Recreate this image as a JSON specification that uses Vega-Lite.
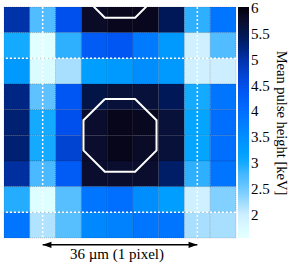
{
  "$schema": "https://vega.github.io/schema/vega-lite/v6.json",
  "width": 232,
  "height": 231,
  "padding": {"left": 3, "top": 6, "right": 0, "bottom": 0},
  "config": {"view": {"stroke": null}, "font": "Liberation Serif"},
  "datasets": {
    "cells": [
      {"c":0,"r":0,"v":5.0},{"c":1,"r":0,"v":2.7},{"c":2,"r":0,"v":4.5},{"c":3,"r":0,"v":5.8},{"c":4,"r":0,"v":5.88},{"c":5,"r":0,"v":5.88},{"c":6,"r":0,"v":5.45},{"c":7,"r":0,"v":2.9},{"c":8,"r":0,"v":3.9},
      {"c":0,"r":1,"v":3.0},{"c":1,"r":1,"v":1.58},{"c":2,"r":1,"v":2.9},{"c":3,"r":1,"v":4.3},{"c":4,"r":1,"v":4.4},{"c":5,"r":1,"v":3.8},{"c":6,"r":1,"v":3.3},{"c":7,"r":1,"v":1.95},{"c":8,"r":1,"v":2.7},
      {"c":0,"r":2,"v":3.3},{"c":1,"r":2,"v":1.72},{"c":2,"r":2,"v":2.2},{"c":3,"r":2,"v":3.2},{"c":4,"r":2,"v":3.3},{"c":5,"r":2,"v":3.5},{"c":6,"r":2,"v":3.3},{"c":7,"r":2,"v":1.95},{"c":8,"r":2,"v":2.0},
      {"c":0,"r":3,"v":5.2},{"c":1,"r":3,"v":2.6},{"c":2,"r":3,"v":4.4},{"c":3,"r":3,"v":5.55},{"c":4,"r":3,"v":5.65},{"c":5,"r":3,"v":5.65},{"c":6,"r":3,"v":5.45},{"c":7,"r":3,"v":3.0},{"c":8,"r":3,"v":3.9},
      {"c":0,"r":4,"v":5.3},{"c":1,"r":4,"v":3.0},{"c":2,"r":4,"v":4.5},{"c":3,"r":4,"v":5.75},{"c":4,"r":4,"v":5.9},{"c":5,"r":4,"v":5.85},{"c":6,"r":4,"v":5.65},{"c":7,"r":4,"v":3.1},{"c":8,"r":4,"v":4.0},
      {"c":0,"r":5,"v":5.3},{"c":1,"r":5,"v":3.0},{"c":2,"r":5,"v":4.7},{"c":3,"r":5,"v":5.75},{"c":4,"r":5,"v":5.9},{"c":5,"r":5,"v":5.8},{"c":6,"r":5,"v":5.65},{"c":7,"r":5,"v":3.1},{"c":8,"r":5,"v":4.0},
      {"c":0,"r":6,"v":5.05},{"c":1,"r":6,"v":2.75},{"c":2,"r":6,"v":4.3},{"c":3,"r":6,"v":5.75},{"c":4,"r":6,"v":5.75},{"c":5,"r":6,"v":5.75},{"c":6,"r":6,"v":5.35},{"c":7,"r":6,"v":2.9},{"c":8,"r":6,"v":3.9},
      {"c":0,"r":7,"v":2.95},{"c":1,"r":7,"v":1.65},{"c":2,"r":7,"v":2.65},{"c":3,"r":7,"v":3.9},{"c":4,"r":7,"v":4.0},{"c":5,"r":7,"v":3.5},{"c":6,"r":7,"v":3.2},{"c":7,"r":7,"v":1.95},{"c":8,"r":7,"v":2.4},
      {"c":0,"r":8,"v":3.9},{"c":1,"r":8,"v":2.15},{"c":2,"r":8,"v":2.65},{"c":3,"r":8,"v":3.6},{"c":4,"r":8,"v":3.7},{"c":5,"r":8,"v":3.9},{"c":6,"r":8,"v":3.9},{"c":7,"r":8,"v":2.2},{"c":8,"r":8,"v":2.2}
    ],
    "octagons": [
      {"shape":"centre","o":0,"x":23.48,"y":21.5},{"shape":"centre","o":1,"x":30.52,"y":21.5},{"shape":"centre","o":2,"x":35.5,"y":26.48},{"shape":"centre","o":3,"x":35.5,"y":33.52},{"shape":"centre","o":4,"x":30.52,"y":38.5},{"shape":"centre","o":5,"x":23.48,"y":38.5},{"shape":"centre","o":6,"x":18.5,"y":33.52},{"shape":"centre","o":7,"x":18.5,"y":26.48},{"shape":"centre","o":8,"x":23.48,"y":21.5},
      {"shape":"top","o":0,"x":23.48,"y":-14.5},{"shape":"top","o":1,"x":30.52,"y":-14.5},{"shape":"top","o":2,"x":35.5,"y":-9.52},{"shape":"top","o":3,"x":35.5,"y":-2.48},{"shape":"top","o":4,"x":30.52,"y":2.5},{"shape":"top","o":5,"x":23.48,"y":2.5},{"shape":"top","o":6,"x":18.5,"y":-2.48},{"shape":"top","o":7,"x":18.5,"y":-9.52},{"shape":"top","o":8,"x":23.48,"y":-14.5}
    ],
    "vlines": [{"x": 9}, {"x": 45}],
    "hlines": [{"y": 12}, {"y": 48}],
    "arrow": [{"x": 9, "x2": 45, "y": 55.6, "label": "36 µm (1 pixel)", "lx": 26.3, "ly": 57.8}]
  },
  "layer": [
    {
      "data": {"name": "cells"},
      "mark": {"type": "rect", "stroke": "#000", "strokeOpacity": 0.3, "strokeWidth": 0.6, "strokeDash": [1, 1]},
      "encoding": {
        "x": {"field": "c", "type": "ordinal", "axis": null, "scale": {"paddingInner": 0, "paddingOuter": 0}},
        "y": {"field": "r", "type": "ordinal", "axis": null, "scale": {"paddingInner": 0, "paddingOuter": 0}},
        "color": {
          "field": "v", "type": "quantitative",
          "scale": {
            "domain": [1.55, 2.0, 2.5, 3.0, 3.5, 4.0, 4.5, 5.0, 5.5, 6.02],
            "range": ["#ffffff", "#cdeeff", "#6cc8ff", "#14aaff", "#008eff", "#006eff", "#0050ee", "#0032aa", "#00154e", "#000008"]
          },
          "legend": {
            "orient": "right", "offset": 2, "padding": 0,
            "direction": "vertical",
            "gradientLength": 231, "gradientThickness": 11, "gradientStrokeWidth": 0,
            "values": [2, 2.5, 3, 3.5, 4, 4.5, 5, 5.5, 6],
            "format": ".1~f",
            "labelFont": "Liberation Serif", "labelFontSize": 15, "labelColor": "#000", "labelOffset": 2,
            "labelBaseline": "middle", "labelOverlap": false,
            "title": "Mean pulse height [keV]",
            "titleOrient": "right", "titleAngle": 90, "titleAnchor": "middle",
            "titleFont": "Liberation Serif", "titleFontSize": 14.5, "titleFontWeight": "normal", "titleColor": "#000",
            "titlePadding": 4
          }
        }
      }
    },
    {
      "data": {"name": "vlines"},
      "mark": {"type": "rule", "color": "#ffffff", "strokeWidth": 1.5, "strokeDash": [2, 2]},
      "encoding": {"x": {"field": "x", "type": "quantitative", "axis": null, "scale": {"domain": [0, 54]}}}
    },
    {
      "data": {"name": "hlines"},
      "mark": {"type": "rule", "color": "#ffffff", "strokeWidth": 1.5, "strokeDash": [2, 2]},
      "encoding": {"y": {"field": "y", "type": "quantitative", "axis": null, "scale": {"domain": [0, 54], "reverse": true}}}
    },
    {
      "data": {"name": "octagons"},
      "mark": {"type": "line", "color": "#ffffff", "strokeWidth": 2, "clip": true},
      "encoding": {
        "x": {"field": "x", "type": "quantitative", "axis": null, "scale": {"domain": [0, 54]}},
        "y": {"field": "y", "type": "quantitative", "axis": null, "scale": {"domain": [0, 54], "reverse": true}},
        "detail": {"field": "shape"},
        "order": {"field": "o", "type": "quantitative"}
      }
    },
    {
      "data": {"name": "arrow"},
      "mark": {"type": "rule", "color": "#000", "strokeWidth": 1.5, "clip": false},
      "encoding": {
        "x": {"field": "x", "type": "quantitative", "axis": null, "scale": {"domain": [0, 54]}},
        "x2": {"field": "x2"},
        "y": {"field": "y", "type": "quantitative", "axis": null, "scale": {"domain": [0, 54], "reverse": true}}
      }
    },
    {
      "data": {"name": "arrow"},
      "mark": {"type": "point", "filled": true, "color": "#000", "opacity": 1, "size": 64, "shape": "M0,0 L2.2,-0.8 L2.2,0.8 Z", "clip": false},
      "encoding": {
        "x": {"field": "x", "type": "quantitative", "axis": null, "scale": {"domain": [0, 54]}},
        "y": {"field": "y", "type": "quantitative", "axis": null, "scale": {"domain": [0, 54], "reverse": true}}
      }
    },
    {
      "data": {"name": "arrow"},
      "mark": {"type": "point", "filled": true, "color": "#000", "opacity": 1, "size": 64, "shape": "M0,0 L-2.2,-0.8 L-2.2,0.8 Z", "clip": false},
      "encoding": {
        "x": {"field": "x2", "type": "quantitative", "axis": null, "scale": {"domain": [0, 54]}},
        "y": {"field": "y", "type": "quantitative", "axis": null, "scale": {"domain": [0, 54], "reverse": true}}
      }
    },
    {
      "data": {"name": "arrow"},
      "mark": {"type": "text", "font": "Liberation Serif", "fontSize": 15, "color": "#000", "baseline": "middle", "align": "center", "clip": false},
      "encoding": {
        "x": {"field": "lx", "type": "quantitative", "axis": null, "scale": {"domain": [0, 54]}},
        "y": {"field": "ly", "type": "quantitative", "axis": null, "scale": {"domain": [0, 54], "reverse": true}},
        "text": {"field": "label"}
      }
    }
  ],
  "resolve": {"scale": {"x": "independent", "y": "independent"}}
}
